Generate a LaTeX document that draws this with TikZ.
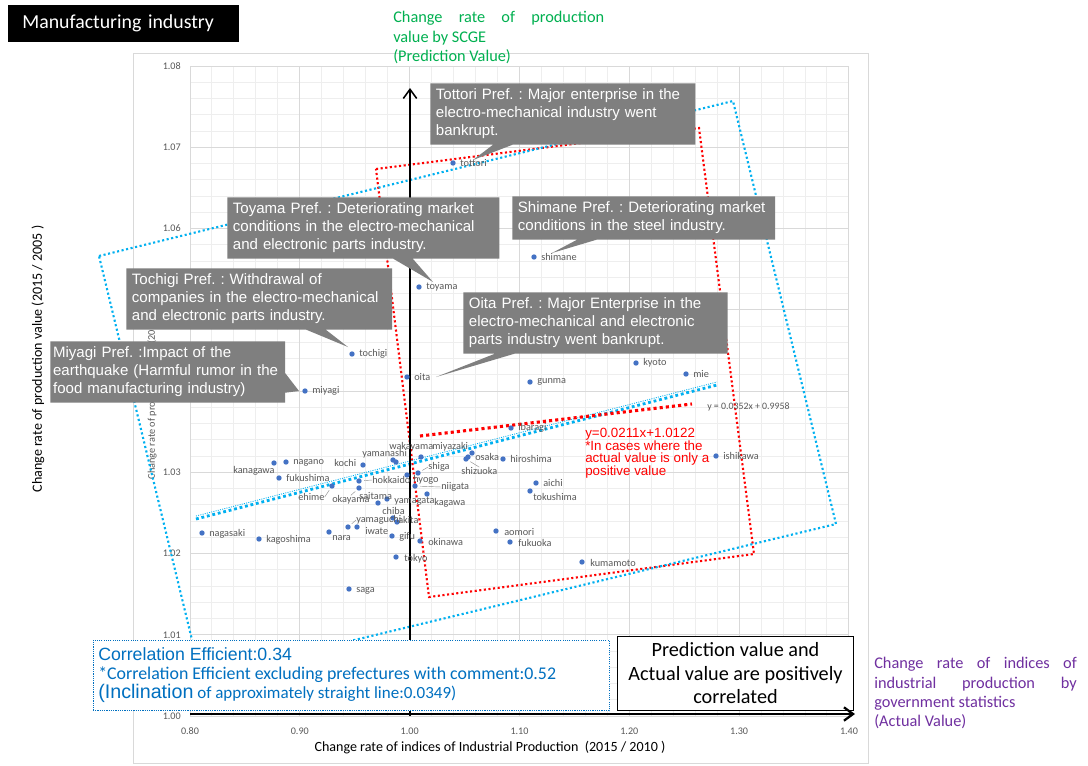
\documentclass[tikz,border=0pt]{standalone}
\usepackage{fontspec}
\setmainfont{Liberation Sans}
\newfontfamily\calibri{Carlito}
\newfontfamily\arial{Liberation Sans}
\usetikzlibrary{arrows.meta,shapes.callouts}

\definecolor{dotblue}{HTML}{4472C4}
\definecolor{skyline}{HTML}{00B0F0}
\definecolor{redline}{HTML}{FF0000}
\definecolor{cmtgray}{HTML}{7F7F7F}
\definecolor{lblgray}{HTML}{595959}
\definecolor{gridlight}{HTML}{EEEEEE}
\definecolor{gridmid}{HTML}{D9D9D9}
\definecolor{sgreen}{HTML}{00B050}
\definecolor{spurple}{HTML}{7030A0}
\definecolor{infoblue}{HTML}{0070C0}

\newcommand\cmtfont{\fontsize{10.7}{12.8}\selectfont\frenchspacing\hyphenpenalty=10000\relax}

\tikzset{
  gridminor/.style={draw=gridlight,line width=0.7pt},
  gridmajor/.style={draw=gridmid,line width=0.7pt},
  ticklbl/.style={inner sep=0pt,text=lblgray,font=\calibri\fontsize{7.2}{8}\selectfont},
  prefdot/.style={circle,fill=dotblue,inner sep=0pt,minimum size=3.8pt},
  preflabel/.style={anchor=west,inner sep=0pt,text=lblgray,font=\calibri\fontsize{7.3}{8}\selectfont},
  leader/.style={draw=lblgray!70,line width=0.3pt,shorten >=1.5pt},
  cyanbox/.style={draw=skyline,line width=1.5pt,dash pattern=on 1.5pt off 1.8pt},
  redbox/.style={draw=redline,line width=1.5pt,dash pattern=on 1.5pt off 1.8pt},
  cyantrend/.style={draw=skyline,line width=2pt,dash pattern=on 2pt off 2pt},
  redtrend/.style={draw=redline,line width=2.2pt,dash pattern=on 2.2pt off 2.2pt},
  axisarrow/.style={draw=black,line width=1.1pt,-{Straight Barb[length=6.5pt,width=9.5pt]}},
  comment/.style={rectangle callout,fill=cmtgray,text=white,anchor=north west,align=left,
    inner xsep=4pt,inner ysep=4pt,callout pointer width=14pt,font=\cmtfont},
  sidetext/.style={anchor=north west,inner sep=0pt,align=left,font=\calibri\fontsize{11.6}{13.8}\selectfont},
  corrtxt/.style={anchor=base west,inner sep=0pt,text=infoblue},
}

\begin{document}
\begin{tikzpicture}[x=0.025cm,y=-0.025cm]
\fill[white] (0,0) rectangle (1088,765);
\useasboundingbox (0,0) rectangle (1088,765);

% chart area and grid
\draw[gridmajor] (133,53) rectangle (868,763);
\foreach \i in {0,...,30} \draw[gridminor] ({190+21.965*\i},66) -- ({190+21.965*\i},716);
\foreach \j in {0,...,40} \draw[gridminor] (190,{66+16.25*\j}) -- (849,{66+16.25*\j});
\foreach \i in {0,...,6} \draw[gridmajor] ({190+109.83*\i},66) -- ({190+109.83*\i},716);
\foreach \j in {0,...,8} \draw[gridmajor] (190,{66+81.25*\j}) -- (849,{66+81.25*\j});

\foreach \j/\v in {0/1.08,1/1.07,2/1.06,3/1.05,4/1.04,5/1.03,6/1.02,7/1.01,8/1.00}
  \node[ticklbl,anchor=east] (ytick\j) at (181,{66+81.25*\j}) {\v};
\foreach \i/\v in {0/0.80,1/0.90,2/1.00,3/1.10,4/1.20,5/1.30,6/1.40}
  \node[ticklbl] (xtick\i) at ({190+109.83*\i},731) {\v};

\node[rotate=90,inner sep=0pt,text=lblgray,font=\calibri\fontsize{7.3}{8}\selectfont]
  (ytitle-ghost) at (152,382) {Change rate of production value (2015 / 2005 )};
\node[rotate=90,inner sep=0pt,font=\calibri\fontsize{10}{12}\selectfont]
  (ytitle) at (38,359) {Change rate of production value (2015 / 2005 )};
\node[inner sep=0pt,font=\calibri\fontsize{10}{12}\selectfont]
  (xtitle) at (490,748) {Change rate of indices of Industrial Production\ \ (2015 / 2010 )};

% groups and fitted lines
\draw[redbox] (376,169) -- (699,128) -- (754,554) -- (429,597) -- cycle;
\draw[cyanbox] (99,256) -- (733,101) -- (836,524) -- (201,677) -- cycle;
\draw[draw=skyline,line width=0.6pt,dash pattern=on 0.7pt off 0.9pt] (196,516) -- (717,382);
\draw[cyantrend] (196,519) -- (717,385);
\draw[redtrend] (420,436) -- (692,404);
\node[preflabel,text=lblgray,font=\calibri\fontsize{7}{8}\selectfont] (fit-all) at (707,407) {y = 0.0352x + 0.9958};
\node[anchor=north west,inner sep=0pt,align=left,text=redline,font=\fontsize{9.5}{9}\selectfont]
  (fit-pos) at (585,428) {y=0.0211x+1.0122\\*In cases where the\\actual value is only a\\positive value};

\coordinate (yaxis-foot) at (410,716);
\coordinate (yaxis-head) at (410,88);
\draw[axisarrow] (yaxis-foot) -- (yaxis-head);

% prefectures
\foreach \nm/\px/\py/\lx/\ly in {
  tottori/453/163/460/163, shimane/534/257/541/257, toyama/419/287/426/287,
  tochigi/352/354/359/354, oita/407/377/414/377, miyagi/305/391/312/391,
  kyoto/636/363/643/363, mie/686/374/693/374, gunma/530/382/537/382,
  ibaragi/511/428/518/428, ishikawa/716/456/723/456, hiroshima/503/459/510/459,
  osaka/468/457/475/457, miyazaki/472/453/432/447, shizuoka/466/459/461/471,
  wakayama/421/457/389/447, yamanashi/393/460/362/454, kochi/363/465/334/463,
  nagano/286/462/293/463, kanagawa/274/463/233/471, fukushima/279/478/286/478,
  hokkaido/359/481/372/480, hyogo/407/475/413/480, shiga/418/473/428/467,
  niigata/415/486/441/487, kagawa/427/494/434/503, yamagata/387/499/394/501,
  saitama/378/503/359/496, okayama/359/488/332/500, ehime/332/486/298/497,
  chiba/393/518/382/511, akita/397/522/398/520, yamaguchi/348/527/356/520,
  iwate/357/527/365/531, gifu/392/536/399/537, okinawa/420/541/428/542,
  tokyo/396/557/404/559, saga/349/589/356/591, nagasaki/202/533/209/534,
  kagoshima/259/539/266/540, nara/329/532/332/538, aomori/496/531/504/532,
  fukuoka/510/542/518/543, aichi/536/483/543/483, tokushima/530/491/533/497,
  kumamoto/582/562/590/563}
{
  \node[prefdot] (\nm) at (\px,\py) {};
  \node[preflabel] (\nm-l) at (\lx,\ly) {\nm};
}
\node[prefdot] (fukui) at (396,462) {};
\draw[leader] (shizuoka-l.north) -- (shizuoka);
\draw[leader] (niigata-l.west) -- (niigata);
\draw[leader] (ehime-l.east) -- (ehime);
\draw[leader] (okayama-l.north) -- (okayama);
\draw[leader] (hokkaido-l.west) -- (hokkaido);
\draw[leader] (shiga-l.west) -- (shiga);
\draw[leader] (yamaguchi-l.west) -- (yamaguchi);

% comments
\coordinate (tip-tottori) at (473,160);
\coordinate (tip-toyama) at (433,282);
\coordinate (tip-shimane) at (552,253);
\coordinate (tip-tochigi) at (348,347);
\coordinate (tip-oita) at (436,377);
\coordinate (tip-miyagi) at (299,391);
\node[comment,text width=180.5pt,callout absolute pointer={(tip-tottori)}] (c-tottori) at (430,83)
  {Tottori Pref. : Major enterprise in the\\electro-mechanical industry went\\bankrupt.};
\node[comment,text width=185.5pt,callout absolute pointer={(tip-toyama)}] (c-toyama) at (227,197)
  {Toyama Pref. : Deteriorating market\\conditions in the electro-mechanical\\and electronic parts industry.};
\node[comment,text width=179pt,callout absolute pointer={(tip-shimane)}] (c-shimane) at (512,196)
  {Shimane Pref. : Deteriorating market\\conditions in the steel industry.};
\node[comment,text width=181pt,callout absolute pointer={(tip-tochigi)}] (c-tochigi) at (126,268)
  {Tochigi Pref. : Withdrawal of\\companies in the electro-mechanical\\and electronic parts industry.};
\node[comment,text width=180pt,callout absolute pointer={(tip-oita)}] (c-oita) at (463,292)
  {Oita Pref. : Major Enterprise in the\\electro-mechanical and electronic\\parts industry went bankrupt.};
\node[comment,text width=163pt,inner xsep=2pt,callout absolute pointer={(tip-miyagi)}] (c-miyagi) at (50,341)
  {Miyagi Pref. :Impact of the\\earthquake (Harmful rumor in the\\food manufacturing industry)};

% summary boxes
\node[draw=infoblue,line width=0.6pt,dash pattern=on 0.8pt off 0.8pt,fill=white,
  minimum width=367pt,minimum height=50.3pt,inner sep=0pt] (corrbox) at (351,675.5) {};
\node[corrtxt,font=\arial\fontsize{12.6}{14}\selectfont] (corr1) at (98,660) {Correlation Efficient:0.34};
\node[corrtxt,font=\calibri\fontsize{12.7}{14}\selectfont] (corr2) at (98,679)
  {*Correlation Efficient excluding prefectures with comment:0.52};
\node[corrtxt,font=\calibri\fontsize{12.1}{14}\selectfont] (corr3) at (98,698)
  {{\arial\fontsize{14}{16}\selectfont(Inclination} of approximately straight line:0.0349)};
\node[draw=black,line width=1pt,fill=white,minimum width=168pt,minimum height=53pt,align=center,
  font=\calibri\fontsize{14.4}{16.7}\selectfont] (concl) at (735.5,673.5)
  {Prediction value and\\Actual value are positively\\correlated};

\coordinate (xaxis-foot) at (190,714);
\coordinate (xaxis-head) at (855,714);
\draw[axisarrow,line width=1.6pt] (xaxis-foot) -- (xaxis-head);

% outside texts
\node[fill=black,text=white,anchor=west,inner xsep=10pt,text width=144.4pt,minimum height=26.2pt,
  font=\calibri\fontsize{14.1}{16}\selectfont] (title) at (8,23.5) {Manufacturing industry};
\node[sidetext,text=sgreen] (pred-lbl) at (393,11)
  {\makebox[150pt][s]{Change rate of production}\\value by SCGE\\(Prediction Value)};
\node[sidetext,text=spurple] (act-lbl) at (874,657)
  {\makebox[144pt][s]{Change rate of indices of}\\\makebox[144pt][s]{industrial production by}\\government statistics\\(Actual Value)};
\end{tikzpicture}
\end{document}
